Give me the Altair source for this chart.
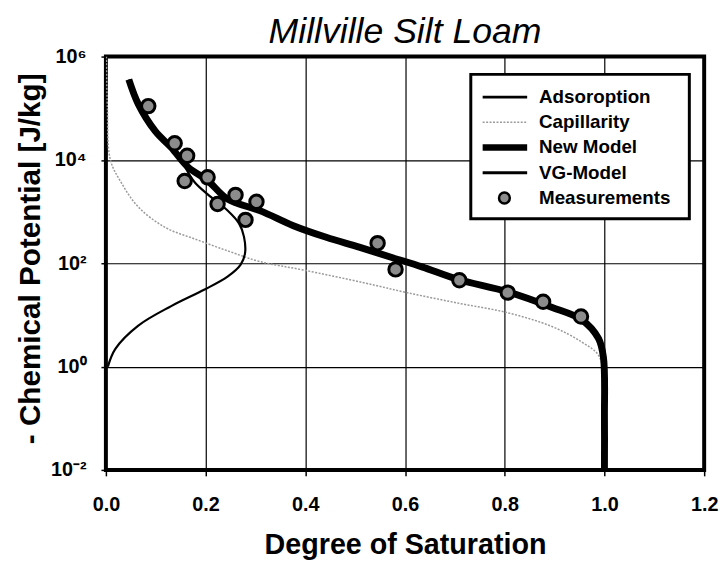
import altair as alt
import pandas as pd

# ---------------- data ----------------
new_x = [0.046, 0.065, 0.099, 0.131, 0.165, 0.204, 0.244, 0.310, 0.376, 0.442, 0.508, 0.575,
         0.634, 0.705, 0.806, 0.894, 0.954, 0.988, 0.998, 1.0, 1.0]
new_y = [3.6e5, 1.2e5, 3.6e4, 1.74e4, 7.2e3, 4.0e3, 1750, 1030, 533, 318, 205, 128,
         85, 49, 28, 14.1, 8.1, 3.5, 1.5, 0.1, 0.01]

vg_x = [0.046, 0.065, 0.099, 0.131, 0.165, 0.204, 0.244, 0.310, 0.376, 0.442, 0.508, 0.575,
        0.634, 0.705, 0.806, 0.894, 0.954, 0.988, 0.998, 1.0, 1.0]
vg_y = [3.6e5, 1.2e5, 3.6e4, 1.74e4, 7.2e3, 4.0e3, 1750, 1030, 533, 318, 205, 128,
        85, 49, 28, 14.1, 8.1, 3.5, 1.5, 0.1, 0.01]

cap_x = [0.001, 0.003, 0.009, 0.032, 0.065, 0.118, 0.184, 0.250, 0.310, 0.396, 0.517, 0.604,
         0.705, 0.806, 0.894, 0.954, 0.988, 0.998, 1.0]
cap_y = [1e6, 1e5, 1e4, 3470, 1230, 500, 282, 166, 107, 74, 42, 27,
         17, 11, 6.0, 3.0, 1.66, 0.63, 0.01]

ads_x = [0.004, 0.019, 0.065, 0.131, 0.198, 0.244, 0.270, 0.279, 0.277, 0.267, 0.244, 0.211,
         0.178, 0.158]
ads_y = [1.0, 2.2, 6.2, 14.8, 31, 55, 93, 155, 324, 590, 1050, 1900, 3700, 7500]

meas_x = [0.085, 0.138, 0.163, 0.158, 0.204, 0.224, 0.260, 0.302, 0.280, 0.545, 0.581, 0.709,
          0.806, 0.877, 0.953]
meas_y = [1.1e5, 2.1e4, 1.2e4, 3.9e3, 4.6e3, 1.4e3, 2.1e3, 1.55e3, 690, 245, 76, 47,
          27, 18, 9.3]

legend_labels = ["Adsoroption", "Capillarity", "New Model", "VG-Model", "Measurements"]

x_ticks = [0.0, 0.2, 0.4, 0.6, 0.8, 1.0, 1.2]
y_ticks = [1e-2, 1e0, 1e2, 1e4, 1e6]

FONT = "Liberation Sans"


def frame(xs, ys):
    return pd.DataFrame({"S": xs, "P": ys, "i": list(range(len(xs)))})


xscale = alt.Scale(domain=[0, 1.2], nice=False, zero=False)
yscale = alt.Scale(type="log", domain=[1e-2, 1e6], nice=False)

xaxis = alt.Axis(values=x_ticks, format=".1f", title="Degree of Saturation",
                 tickSize=6, labelPadding=35, labelBaseline="alphabetic",
                 titleY=85, titleBaseline="alphabetic", labelFlush=False)
yaxis = alt.Axis(values=y_ticks, title="- Chemical Potential [J/kg]",
                 tickSize=5, labelPadding=15, titleFontSize=30,
                 labelExpr="datum.value > 1e5 ? '10⁶' : datum.value > 1e3 ? '10⁴' : "
                           "datum.value > 10 ? '10²' : datum.value > 0.1 ? '10⁰' : '10⁻²'",
                 titleX=-67, titleY=204, titleBaseline="alphabetic", titleAngle=270)

X = alt.X("S:Q", scale=xscale, axis=xaxis)
Y = alt.Y("P:Q", scale=yscale, axis=yaxis)


def curve(df, color, width, dash=None, interp="catmull-rom"):
    kw = dict(color=color, strokeWidth=width, interpolate=interp, clip=True)
    if dash:
        kw["strokeDash"] = dash
    return alt.Chart(df).mark_line(**kw).encode(x=X, y=Y, order="i:Q")


cap = curve(frame(cap_x, cap_y), "#9a9a9a", 1.5, dash=[2, 1.5])
ads = curve(frame(ads_x, ads_y), "black", 2.2)
vg = curve(frame(vg_x, vg_y), "black", 3)
new = curve(frame(new_x, new_y), "black", 7)

meas = alt.Chart(pd.DataFrame({"S": meas_x, "P": meas_y})).mark_point(
    shape="circle", filled=True, size=185, fill="#8c8c8c", stroke="black",
    strokeWidth=3, opacity=1,
).encode(x=X, y=Y)

# ---------------- legend (drawn by hand, styled like the original) -------------
lx0, lx1, ly0, ly1 = 369, 590, 18, 164
row_y = [41, 66.5, 92, 117.5, 143]
one = pd.DataFrame({"k": [0]})

legend_layers = [
    alt.Chart(one).mark_rect(fill="white", stroke="black", strokeWidth=3).encode(
        x=alt.value(lx0), x2=alt.value(lx1), y=alt.value(ly0), y2=alt.value(ly1))
]
styles = [("black", 3, None), ("#9a9a9a", 1.5, [2, 1.5]), ("black", 6.5, None), ("black", 3, None)]
for (col, w, dash), yy in zip(styles, row_y[:4]):
    kw = dict(color=col, strokeWidth=w)
    if dash:
        kw["strokeDash"] = dash
    legend_layers.append(alt.Chart(one).mark_rule(**kw).encode(
        x=alt.value(381), x2=alt.value(426), y=alt.value(yy)))
legend_layers.append(alt.Chart(one).mark_point(
    shape="circle", filled=True, size=120, fill="#8c8c8c", stroke="black",
    strokeWidth=2.5, opacity=1).encode(x=alt.value(403), y=alt.value(row_y[4])))
for lab, yy in zip(legend_labels, row_y):
    legend_layers.append(alt.Chart(pd.DataFrame({"t": [lab]})).mark_text(
        align="left", baseline="middle", font=FONT, fontWeight="bold", fontSize=19,
        color="black").encode(text="t:N", x=alt.value(438), y=alt.value(yy)))

chart = alt.layer(cap, ads, vg, new, meas, *legend_layers).properties(
    width=605, height=418,
    autosize=alt.AutoSizeParams(type="none"),
    padding={"left": 99, "top": 46, "right": 15, "bottom": 89},
    title=alt.TitleParams("Millville Silt Loam", font=FONT, fontSize=36, fontStyle="italic",
                          fontWeight="normal", anchor="middle", offset=-4, color="black"),
).configure_view(stroke="black", strokeWidth=4).configure_axis(
    grid=True, gridColor="black", gridWidth=1.2, gridOpacity=1, domain=False,
    tickColor="black", tickWidth=1.5,
    labelFont=FONT, labelFontWeight="bold", labelFontSize=20, labelColor="black",
    titleFont=FONT, titleFontWeight="bold", titleFontSize=29, titleColor="black",
)

chart.save("out.html", embed_options={"renderer": "svg", "actions": False})
